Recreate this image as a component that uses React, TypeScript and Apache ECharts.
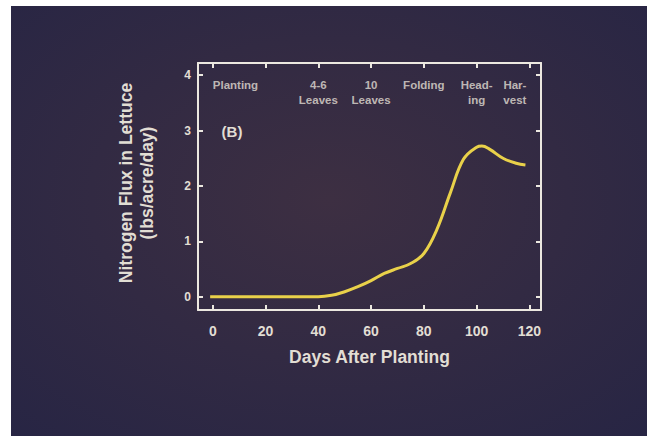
import React, { useEffect, useRef } from 'react';
import * as echarts from 'echarts';

// Curve: nitrogen flux (lbs/acre/day) vs days after planting
const days = [-1, 0, 10, 20, 30, 40, 45, 50, 55, 60, 65, 70, 75, 80, 85, 90, 95, 100, 102, 105, 110, 115, 118.5];
const flux = [0, 0, 0, 0, 0, 0, 0.025, 0.09, 0.18, 0.29, 0.42, 0.51, 0.6, 0.78, 1.22, 1.87, 2.48, 2.7, 2.72, 2.66, 2.5, 2.41, 2.38];

const xTicks = [0, 20, 40, 60, 80, 100, 120];
const yTicks = [0, 1, 2, 3, 4];

const stageNames = ['Planting', '4-6\nLeaves', '10\nLeaves', 'Folding', 'Head-\ning', 'Har-\nvest'];
const stageDays = [0, 40, 60, 80, 100, 114.5];
const stageLevel = 3.967;

const FONT = '"Liberation Sans", Arial, Helvetica, sans-serif';
const FRAME = '#ece8e0';
const TEXT = '#e2ded4';
const CURVE = '#e9d14a';

export default function App() {
  const ref = useRef<HTMLDivElement>(null);
  useEffect(() => {
    if (!ref.current) return;
    const chart = echarts.init(ref.current, undefined, { renderer: 'svg' });
    const xCommon = {
      type: 'value',
      min: -5.6,
      max: 124.4,
      splitLine: { show: false },
      axisLine: { show: true, onZero: false, lineStyle: { color: FRAME, width: 2 } },
      axisTick: { show: true, inside: true, length: 5, lineStyle: { color: FRAME, width: 2 }, customValues: xTicks },
    };
    const yCommon = {
      type: 'value',
      min: -0.24,
      max: 4.22,
      splitLine: { show: false },
      axisLine: { show: true, onZero: false, lineStyle: { color: FRAME, width: 2 } },
      axisTick: { show: true, inside: true, length: 5, lineStyle: { color: FRAME, width: 2 }, customValues: yTicks },
    };
    chart.setOption({
      animation: false,
      backgroundColor: 'transparent',
      grid: { left: 198, right: 111, top: 63, bottom: 127, containLabel: false },
      xAxis: [
        {
          ...xCommon,
          position: 'bottom',
          axisLabel: { customValues: xTicks, color: TEXT, fontSize: 14, fontWeight: 'bold', margin: 14, fontFamily: FONT },
          name: 'Days After Planting',
          nameLocation: 'middle',
          nameGap: 38,
          nameTextStyle: { color: TEXT, fontSize: 17.5, fontWeight: 'bold', fontFamily: FONT },
        },
        { ...xCommon, position: 'top', axisLabel: { show: false } },
      ],
      yAxis: [
        {
          ...yCommon,
          position: 'left',
          axisLabel: { customValues: yTicks, color: TEXT, fontSize: 12, fontWeight: 'bold', margin: 7, fontFamily: FONT },
        },
        { ...yCommon, position: 'right', axisLabel: { show: false } },
      ],
      graphic: [
        {
          type: 'rect',
          z: -100,
          silent: true,
          shape: { x: 11, y: 6, width: 636, height: 430 },
          style: {
            fill: {
              type: 'radial',
              x: 0.5,
              y: 0.45,
              r: 0.75,
              colorStops: [
                { offset: 0, color: '#3d2f42' },
                { offset: 1, color: '#272544' },
              ],
            },
          },
        },
        {
          type: 'text',
          x: 136.5,
          y: 183,
          rotation: Math.PI / 2,
          style: {
            text: 'Nitrogen Flux in Lettuce\n(lbs/acre/day)',
            fontSize: 17.5,
            fontWeight: 'bold',
            lineHeight: 21,
            fontFamily: FONT,
            fill: TEXT,
            align: 'center',
            verticalAlign: 'middle',
          },
        },
        {
          type: 'text',
          x: 232,
          y: 131,
          style: {
            text: '(B)',
            fontSize: 15,
            fontWeight: 'bold',
            fontFamily: FONT,
            fill: TEXT,
            align: 'center',
            verticalAlign: 'middle',
          },
        },
      ],
      series: [
        {
          type: 'line',
          xAxisIndex: 0,
          yAxisIndex: 0,
          data: days.map((d, i) => [d, flux[i]]),
          smooth: 0.4,
          showSymbol: false,
          symbol: 'none',
          lineStyle: { color: CURVE, width: 3 },
          z: 3,
        },
        {
          type: 'scatter',
          xAxisIndex: 0,
          yAxisIndex: 0,
          symbolSize: 0,
          silent: true,
          data: stageDays.map((d, i) => ({
            name: stageNames[i],
            value: [d, stageLevel],
            label: { align: i === 0 ? 'left' : 'center' },
          })),
          label: {
            show: true,
            position: [0, 0],
            formatter: '{b}',
            color: TEXT,
            fontSize: 11.5,
            fontWeight: 'bold',
            lineHeight: 15,
            fontFamily: FONT,
            verticalAlign: 'top',
          },
        },
      ],
    });
    return () => chart.dispose();
  }, []);
  return <div ref={ref} style={{ position: 'absolute', left: 0, top: 0, width: 652, height: 437 }} />;
}
